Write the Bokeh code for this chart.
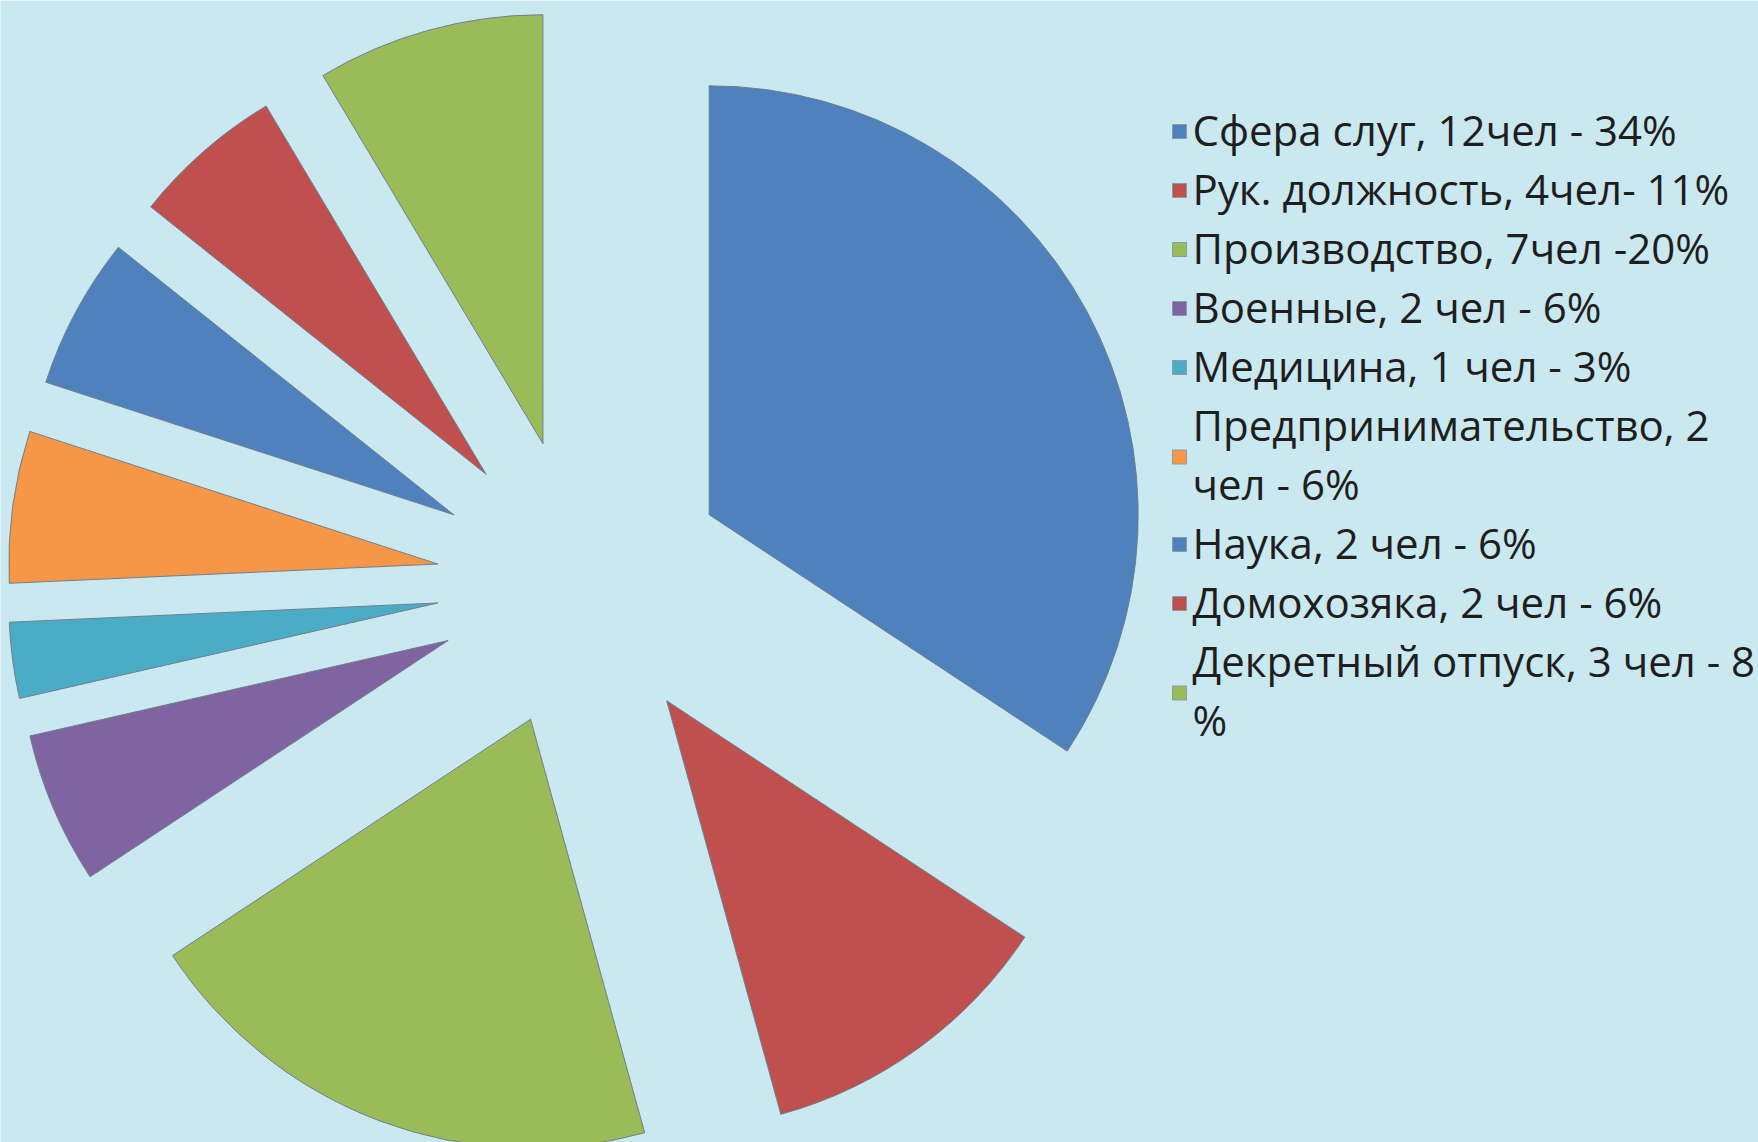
import numpy as np
from bokeh.plotting import figure
from bokeh.models import Range1d, ColumnDataSource
from bokeh.core.properties import value
from bokeh.embed import file_html
from bokeh.resources import INLINE

# ---- data ----
categories = ["Сфера слуг", "Рук. должность", "Производство", "Военные", "Медицина",
              "Предпринимательство", "Наука", "Домохозяка", "Декретный отпуск"]
people = [12, 4, 7, 2, 1, 2, 2, 2, 3]
legend_labels = [
    "Сфера слуг, 12чел - 34%",
    "Рук. должность, 4чел- 11%",
    "Производство, 7чел -20%",
    "Военные, 2 чел - 6%",
    "Медицина, 1 чел - 3%",
    "Предпринимательство, 2\nчел - 6%",
    "Наука, 2 чел - 6%",
    "Домохозяка, 2 чел - 6%",
    "Декретный отпуск, 3 чел - 8\n%",
]
colors = ["#4F81BD", "#C0504D", "#9BBB59", "#8064A2", "#4BACC6",
          "#F79646", "#4F81BD", "#C0504D", "#9BBB59"]

# ---- layout (pixel units) ----
W, H = 1758, 1142
def px(X):
    return X
def py(Y):
    return H - Y

CX, CY = px(581), py(583)
R = 429
EXPLODE = 145

vals = np.array(people, dtype=float)
frac = vals / vals.sum()
cum_end = np.cumsum(frac)
cum_start = cum_end - frac
start_ang = np.pi / 2 - 2 * np.pi * cum_start
end_ang = np.pi / 2 - 2 * np.pi * cum_end
mid_ang = (start_ang + end_ang) / 2
xs = CX + EXPLODE * np.cos(mid_ang)
ys = CY + EXPLODE * np.sin(mid_ang)

src = ColumnDataSource(dict(x=xs, y=ys, start=start_ang, end=end_ang,
                            color=colors, cat=categories))

p = figure(width=W, height=H, output_backend="svg", toolbar_location=None,
           x_range=Range1d(0, W), y_range=Range1d(0, H),
           x_axis_location=None, y_axis_location=None, min_border=0)
p.grid.visible = False
p.outline_line_color = None
p.background_fill_color = "#cae8ef"
p.border_fill_color = "#cae8ef"

p.wedge(x="x", y="y", radius=R, start_angle="start", end_angle="end",
        direction="clock", fill_color="color", line_color="#6f7f8f",
        line_width=1, source=src)

# ---- legend ----
LX_MARK = px(1179)
LX_TEXT = px(1192)
LINE0 = 129     # centre of first text line (page px)
STEP = 59
tx, ty, tt = [], [], []
mx, my, mc = [], [], []
line = 0
for lab, col in zip(legend_labels, colors):
    parts = lab.split("\n")
    centers = []
    for part in parts:
        c = LINE0 + line * STEP
        tx.append(LX_TEXT)
        ty.append(py(c))
        tt.append(part)
        centers.append(c)
        line += 1
    mx.append(LX_MARK)
    my.append(py(np.mean(centers) + (3 if len(parts) > 1 else 2)))
    mc.append(col)

p.text(x=tx, y=ty, text=tt, text_font=value("Open Sans"), text_font_size="42px",
       text_color="#1e1e1e", text_baseline="middle", text_align="left")
p.scatter(x=mx, y=my, marker="square", size=14, fill_color=mc,
          line_color="#8a9aa6", line_width=1)

open("out.html", "w").write(file_html(p, INLINE))
